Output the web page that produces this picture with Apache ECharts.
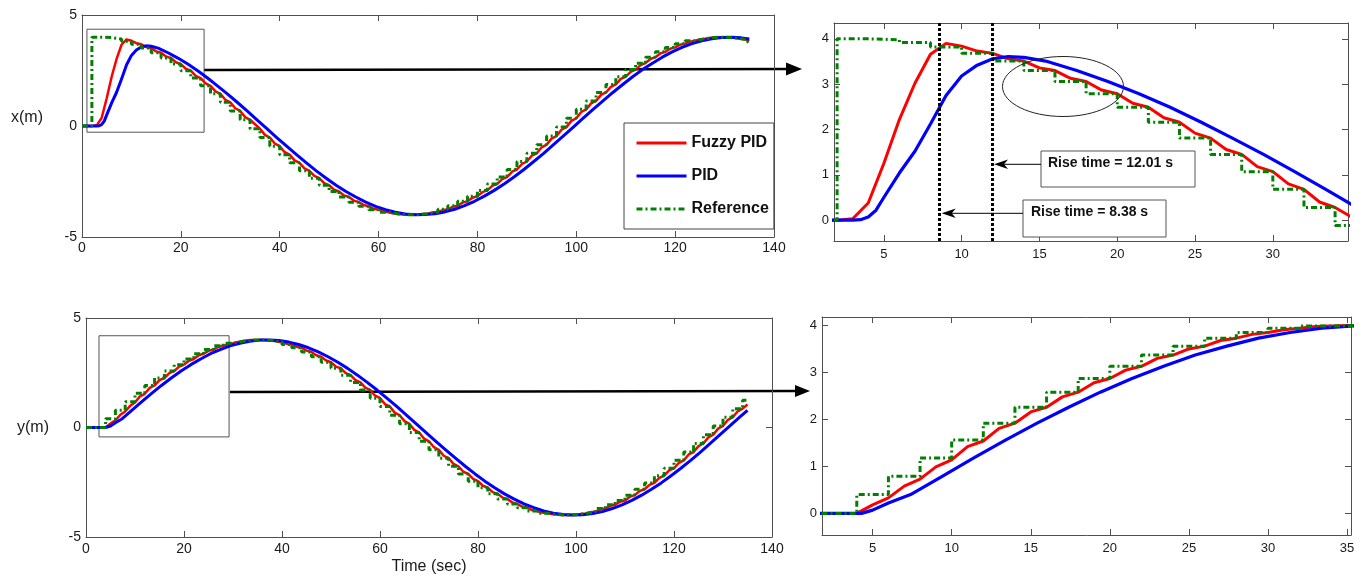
<!DOCTYPE html>
<html><head><meta charset="utf-8">
<script src="https://cdn.jsdelivr.net/npm/echarts@6/dist/echarts.min.js"></script>
<style>html,body{margin:0;padding:0;background:#fff}#c{width:1364px;height:577px}</style>
</head><body><div id="c"></div>
<script>
// ---------- DATA ----------
const seriesNames = ['Fuzzy PID', 'PID', 'Reference'];

// Reference: sample-and-hold values, each held from its time to the next
const refT = [0,2,4,6,8,10,12,14,16,18,20,22,24,26,28,30,32,34,36,38,40,42,44,46,48,50,52,54,56,58,60,62,64,66,68,70,72,74,76,78,80,82,84,86,88,90,92,94,96,98,100,102,104,106,108,110,112,114,116,118,120,122,124,126,128,130,132,134,135];
const refX = [0,4.00,3.98,3.92,3.82,3.68,3.51,3.30,3.06,2.79,2.49,2.16,1.81,1.45,1.07,0.68,0.28,-0.12,-0.52,-0.91,-1.29,-1.66,-2.02,-2.35,-2.67,-2.95,-3.20,-3.43,-3.62,-3.77,-3.88,-3.96,-4.00,-3.99,-3.95,-3.87,-3.75,-3.59,-3.39,-3.16,-2.90,-2.61,-2.30,-1.96,-1.60,-1.23,-0.84,-0.45,-0.05,0.35,0.75,1.13,1.51,1.87,2.22,2.54,2.83,3.10,3.34,3.54,3.71,3.84,3.93,3.99,4.00,3.97,3.91,3.80,3.80];
const refY = [0,0.00,0.40,0.79,1.18,1.56,1.92,2.26,2.58,2.87,3.13,3.37,3.56,3.73,3.85,3.94,3.99,4.00,3.97,3.90,3.79,3.64,3.45,3.23,2.98,2.70,2.39,2.06,1.71,1.34,0.96,0.56,0.17,-0.23,-0.63,-1.02,-1.40,-1.77,-2.12,-2.45,-2.75,-3.03,-3.27,-3.49,-3.66,-3.81,-3.91,-3.97,-4.00,-3.98,-3.93,-3.84,-3.70,-3.53,-3.33,-3.09,-2.82,-2.53,-2.20,-1.86,-1.50,-1.12,-0.73,-0.33,0.07,0.47,0.86,1.25,1.25];

// Fuzzy PID: one value per second, t = 0 .. 135
const fuzzyX = [0,0,0,0.03,0.38,1.25,2.22,3.02,3.66,3.90,3.84,3.73,3.68,3.56,3.51,3.36,3.30,3.13,3.06,2.87,2.79,2.58,2.49,2.26,2.16,1.92,1.81,1.56,1.45,1.18,1.07,0.80,0.68,0.40,0.28,0.08,-0.12,-0.40,-0.52,-0.79,-0.91,-1.18,-1.29,-1.55,-1.66,-1.91,-2.02,-2.25,-2.35,-2.57,-2.67,-2.87,-2.95,-3.13,-3.20,-3.36,-3.43,-3.56,-3.62,-3.73,-3.77,-3.85,-3.88,-3.94,-3.96,-3.99,-4.00,-3.99,-3.99,-3.96,-3.95,-3.89,-3.87,-3.79,-3.75,-3.64,-3.59,-3.45,-3.39,-3.23,-3.16,-2.98,-2.90,-2.70,-2.61,-2.39,-2.30,-2.06,-1.96,-1.71,-1.60,-1.34,-1.23,-0.96,-0.84,-0.57,-0.45,-0.17,-0.05,0.23,0.35,0.63,0.75,1.02,1.13,1.40,1.51,1.76,1.87,2.12,2.22,2.44,2.54,2.74,2.83,3.02,3.10,3.27,3.34,3.48,3.54,3.66,3.71,3.80,3.84,3.90,3.93,3.97,3.99,4.00,4.00,3.98,3.97,3.93,3.91,3.83];
const fuzzyY = [0,0,0,0,0,0.18,0.33,0.58,0.73,0.99,1.14,1.42,1.54,1.81,1.92,2.16,2.26,2.48,2.58,2.78,2.87,3.05,3.13,3.30,3.37,3.50,3.56,3.68,3.73,3.81,3.85,3.91,3.94,3.98,3.99,4.00,4.00,3.98,3.97,3.92,3.90,3.82,3.79,3.69,3.64,3.51,3.45,3.30,3.23,3.06,2.98,2.78,2.70,2.48,2.39,2.16,2.06,1.82,1.71,1.45,1.34,1.07,0.96,0.68,0.56,0.29,0.17,-0.11,-0.23,-0.51,-0.63,-0.90,-1.02,-1.29,-1.40,-1.66,-1.77,-2.02,-2.12,-2.35,-2.45,-2.66,-2.75,-2.95,-3.03,-3.20,-3.27,-3.42,-3.49,-3.61,-3.66,-3.77,-3.81,-3.88,-3.91,-3.95,-3.97,-3.99,-4.00,-3.99,-3.98,-3.95,-3.93,-3.87,-3.84,-3.74,-3.70,-3.58,-3.53,-3.39,-3.33,-3.16,-3.09,-2.90,-2.82,-2.62,-2.53,-2.30,-2.20,-1.96,-1.86,-1.61,-1.50,-1.23,-1.12,-0.85,-0.73,-0.45,-0.33,-0.05,0.07,0.35,0.47,0.74,0.86,1.05];

// PID: times and values
const pidXT = [0,1,2,3,3.5,4,4.5,5,6,7,8,9,10,11,12,13,14,15.4,17.4,19.4,21.4,23.4,25.4,27.4,29.4,31.4,33.4,35.4,37.4,39.4,41.4,43.4,45.4,47.4,49.4,51.4,53.4,55.4,57.4,59.4,61.4,63.4,65.4,67.4,69.4,71.4,73.4,75.4,77.4,79.4,81.4,83.4,85.4,87.4,89.4,91.4,93.4,95.4,97.4,99.4,101.4,103.4,105.4,107.4,109.4,111.4,113.4,115.4,117.4,119.4,121.4,123.4,125.4,127.4,129.4,131.4,133.4,135];
const pidX = [0,0,0,0,0.01,0.07,0.22,0.50,1.04,1.52,2.12,2.75,3.18,3.42,3.56,3.61,3.59,3.51,3.30,3.06,2.79,2.49,2.16,1.81,1.45,1.07,0.68,0.28,-0.12,-0.52,-0.91,-1.29,-1.66,-2.02,-2.35,-2.67,-2.95,-3.20,-3.43,-3.62,-3.77,-3.88,-3.96,-4.00,-3.99,-3.95,-3.87,-3.75,-3.59,-3.39,-3.16,-2.90,-2.61,-2.30,-1.96,-1.60,-1.23,-0.84,-0.45,-0.05,0.35,0.75,1.13,1.51,1.87,2.22,2.54,2.83,3.10,3.34,3.54,3.71,3.84,3.93,3.99,4.00,3.97,3.92];
const pidYT = [0,1,2,3,4,4.3,5,6,7.4,9.4,11.4,13.4,15.4,17.4,19.4,21.4,23.4,25.4,27.4,29.4,31.4,33.4,35.4,37.4,39.4,41.4,43.4,45.4,47.4,49.4,51.4,53.4,55.4,57.4,59.4,61.4,63.4,65.4,67.4,69.4,71.4,73.4,75.4,77.4,79.4,81.4,83.4,85.4,87.4,89.4,91.4,93.4,95.4,97.4,99.4,101.4,103.4,105.4,107.4,109.4,111.4,113.4,115.4,117.4,119.4,121.4,123.4,125.4,127.4,129.4,131.4,133.4,135];
const pidY = [0,0,0,0,0,0,0.07,0.22,0.40,0.79,1.18,1.56,1.92,2.26,2.58,2.87,3.13,3.37,3.56,3.73,3.85,3.94,3.99,4.00,3.97,3.90,3.79,3.64,3.45,3.23,2.98,2.70,2.39,2.06,1.71,1.34,0.96,0.56,0.17,-0.23,-0.63,-1.02,-1.40,-1.77,-2.12,-2.45,-2.75,-3.03,-3.27,-3.49,-3.66,-3.81,-3.91,-3.97,-4.00,-3.98,-3.93,-3.84,-3.70,-3.53,-3.33,-3.09,-2.82,-2.53,-2.20,-1.86,-1.50,-1.12,-0.73,-0.33,0.07,0.47,0.78];

// Rise-time markers (x positions of dotted lines) and texts
const riseLines = [8.54, 12.0];
const riseTexts = ['Rise time = 12.01 s', 'Rise time = 8.38 s'];
// zoom windows drawn on the overview plots [x0, y0, x1, y1]
const zoomBoxX = [1.0, -0.28, 24.7, 4.36];
const zoomBoxY = [2.65, -0.43, 29.2, 4.19];

// ---------- CHART ----------
const FONT = "'Liberation Sans', Arial, Helvetica, sans-serif";
const FRAME = '#505050';
const C_RED = '#ff0000', C_BLUE = '#0000ff', C_GREEN = '#008000';

const fuzzyT = fuzzyX.map((_, i) => i);
const pair = (ts, vs) => vs.map((v, i) => [ts[i], v]);

function axisPair(kind, gridIndex, cfg) {
  const base = {
    type: 'value', gridIndex, min: cfg.min, max: cfg.max,
    splitLine: { show: false },
    axisLine: { show: true, onZero: false, lineStyle: { color: FRAME, width: 1 } },
    axisTick: { show: true, inside: true, length: 6, lineStyle: { color: FRAME, width: 1 } }
  };
  if (cfg.interval) base.interval = cfg.interval;
  else { base.minInterval = cfg.step; base.maxInterval = cfg.step; }
  const main = Object.assign({}, base, {
    position: kind === 'x' ? 'bottom' : 'left',
    axisLabel: { show: true, color: '#1a1a1a', fontSize: cfg.fs, fontFamily: FONT, margin: cfg.margin,
      showMinLabel: !!cfg.interval, showMaxLabel: !!cfg.interval }
  }, cfg.extra || {});
  const mirror = Object.assign({}, base, {
    position: kind === 'x' ? 'top' : 'right', axisLabel: { show: false }
  });
  return [main, mirror];
}

const nameStyle = { fontSize: 16, fontFamily: FONT, color: '#1a1a1a' };

const xAxis = [].concat(
  axisPair('x', 0, { min: 0, max: 140, interval: 20, fs: 14, margin: 4 }),
  axisPair('x', 1, { min: 1.8, max: 34.83, step: 5, fs: 13, margin: 7 }),
  axisPair('x', 2, { min: 0, max: 140, interval: 20, fs: 14, margin: 5,
    extra: { name: 'Time (sec)', nameLocation: 'middle', nameGap: 22, nameTextStyle: nameStyle } }),
  axisPair('x', 3, { min: 1.8, max: 35.25, step: 5, fs: 13, margin: 7 })
);
const yAxis = [].concat(
  axisPair('y', 0, { min: -5, max: 5, interval: 5, fs: 14, margin: 5,
    extra: { name: 'x(m)', nameLocation: 'middle', nameGap: 39, nameRotate: 0,
      nameTextStyle: Object.assign({ verticalAlign: 'bottom', lineHeight: 16 }, nameStyle) } }),
  axisPair('y', 1, { min: -0.46, max: 4.35, step: 1, fs: 13, margin: 5 }),
  axisPair('y', 2, { min: -5, max: 5, interval: 5, fs: 14, margin: 5,
    extra: { name: 'y(m)', nameLocation: 'middle', nameGap: 37, nameRotate: 0, nameTextStyle: nameStyle } }),
  axisPair('y', 3, { min: -0.46, max: 4.18, step: 1, fs: 13, margin: 5 })
);

function ser(name, gi, data, color, width, extra) {
  return Object.assign({
    name, type: 'line', xAxisIndex: gi * 2, yAxisIndex: gi * 2, data,
    symbol: 'none', showSymbol: false, clip: true, animation: false, silent: true,
    lineStyle: { color, width, cap: 'butt', join: 'round' }, itemStyle: { color }
  }, extra || {});
}
function refSer(gi, data) {
  return ser('Reference', gi, data, C_GREEN, 3, {
    step: 'end',
    lineStyle: { color: C_GREEN, width: 3, type: [6, 3, 2, 3], cap: 'butt' }
  });
}
function boxArea(b) {
  return { silent: true, itemStyle: { color: 'rgba(0,0,0,0)', borderColor: '#555', borderWidth: 1 },
    label: { show: false }, data: [[{ xAxis: b[0], yAxis: b[1] }, { xAxis: b[2], yAxis: b[3] }]] };
}

const series = [];
// grid 0: x overview, grid 1: x zoom, grid 2: y overview, grid 3: y zoom
[[0, fuzzyX, pidXT, pidX, refX], [1, fuzzyX, pidXT, pidX, refX], [2, fuzzyY, pidYT, pidY, refY], [3, fuzzyY, pidYT, pidY, refY]]
  .forEach(([gi, fz, pt, pv, rv]) => {
    const extra = {};
    if (gi === 0) extra.markArea = boxArea(zoomBoxX);
    if (gi === 2) extra.markArea = boxArea(zoomBoxY);
    series.push(ser('Fuzzy PID', gi, pair(fuzzyT, fz), C_RED, gi % 2 ? 3 : 2.5, extra));
    series.push(ser('PID', gi, pair(pt, pv), C_BLUE, gi % 2 ? 3.2 : 3));
    const r = refSer(gi, pair(refT, rv));
    if (gi === 1) {
      r.markLine = { silent: true, symbol: 'none', label: { show: false },
        lineStyle: { color: '#000', type: [3, 2], width: 3 },
        data: riseLines.map(v => ({ xAxis: v })) };
    }
    series.push(r);
  });

const arrowHead = (tip, dir, len, half) => [[tip[0], tip[1]], [tip[0] - dir * len, tip[1] - half], [tip[0] - dir * len, tip[1] + half]];
const boldText = { fontSize: 14, fontWeight: 'bold', fontFamily: FONT, fill: '#111' };

const graphic = [
  // connector arrows from overview boxes to zoom plots
  { type: 'line', shape: { x1: 204, y1: 70, x2: 790, y2: 69 }, style: { stroke: '#000', lineWidth: 2.5 } },
  { type: 'polygon', shape: { points: arrowHead([802, 69], 1, 16, 6.5) }, style: { fill: '#000' } },
  { type: 'line', shape: { x1: 230, y1: 392, x2: 798, y2: 391 }, style: { stroke: '#000', lineWidth: 2.5 } },
  { type: 'polygon', shape: { points: arrowHead([810, 391], 1, 15, 6) }, style: { fill: '#000' } },
  // ellipse highlight
  { type: 'ellipse', shape: { cx: 1063, cy: 86.5, rx: 60.5, ry: 30 }, style: { fill: 'none', stroke: '#222', lineWidth: 1 }, z: 10 },
  // rise-time boxes
  { type: 'rect', shape: { x: 1041, y: 151, width: 154, height: 36 }, style: { fill: '#fff', stroke: '#555', lineWidth: 1 }, z: 10 },
  { type: 'text', x: 1048, y: 163, style: Object.assign({ text: riseTexts[0], verticalAlign: 'middle' }, boldText), z: 11 },
  { type: 'rect', shape: { x: 1023, y: 200, width: 143, height: 37 }, style: { fill: '#fff', stroke: '#555', lineWidth: 1 }, z: 10 },
  { type: 'text', x: 1031, y: 212.5, style: Object.assign({ text: riseTexts[1], verticalAlign: 'middle' }, boldText), z: 11 },
  // small arrows
  { type: 'line', shape: { x1: 1041, y1: 164.3, x2: 1000, y2: 164.3 }, style: { stroke: '#000', lineWidth: 1 }, z: 11 },
  { type: 'polygon', shape: { points: [[994, 164.3], [1008, 159.5], [1004, 164.3], [1008, 169]] }, style: { fill: '#000' }, z: 11 },
  { type: 'line', shape: { x1: 1023, y1: 213.3, x2: 948, y2: 213.3 }, style: { stroke: '#000', lineWidth: 1 }, z: 11 },
  { type: 'polygon', shape: { points: [[941.7, 213.3], [955.7, 208.5], [951.7, 213.3], [955.7, 218]] }, style: { fill: '#000' }, z: 11 }
];

const chart = echarts.init(document.getElementById('c'), null, { renderer: 'canvas' });
chart.setOption({
  animation: false,
  backgroundColor: '#fff',
  grid: [
    { left: 82, top: 15, width: 692, height: 222 },
    { left: 834, top: 23, width: 514, height: 218 },
    { left: 86, top: 318, width: 686, height: 219 },
    { left: 822, top: 317, width: 529, height: 218 }
  ],
  xAxis, yAxis, series, graphic,
  legend: {
    data: seriesNames, orient: 'vertical', left: 624, top: 123,
    itemWidth: 50, itemHeight: 14, itemGap: 17, padding: [12, 5, 12, 11],
    borderColor: '#444', borderWidth: 1, backgroundColor: '#fff', selectedMode: false,
    textStyle: { fontSize: 16, fontWeight: 'bold', fontFamily: FONT, color: '#111' },
    itemStyle: { opacity: 0 },
    lineStyle: { width: 3 }, z: 20
  }
});
</script></body></html>
